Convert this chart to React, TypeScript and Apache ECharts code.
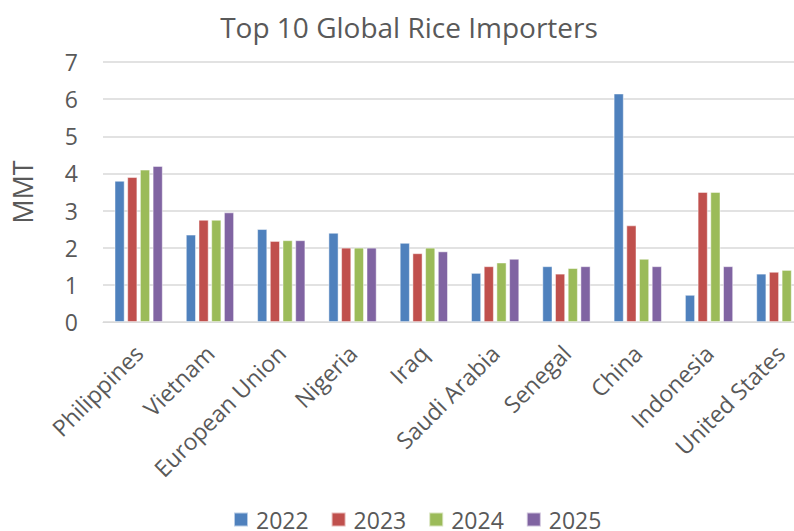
import React, { useEffect, useRef } from "react";
import * as echarts from "echarts";

const categories = [
  "Philippines",
  "Vietnam",
  "European Union",
  "Nigeria",
  "Iraq",
  "Saudi Arabia",
  "Senegal",
  "China",
  "Indonesia",
  "United States",
];
const seriesNames = ["2022", "2023", "2024", "2025"];
const v2022 = [3.8, 2.35, 2.5, 2.4, 2.13, 1.32, 1.5, 6.15, 0.73, 1.3];
const v2023 = [3.9, 2.75, 2.18, 2.0, 1.85, 1.5, 1.3, 2.6, 3.5, 1.35];
const v2024 = [4.1, 2.75, 2.2, 2.0, 2.0, 1.6, 1.45, 1.7, 3.5, 1.4];
const v2025 = [4.2, 2.95, 2.2, 2.0, 1.9, 1.7, 1.5, 1.5, 1.5, 1.42];
const yTicks = [0, 1, 2, 3, 4, 5, 6, 7];
const colors = ["#4F81BD", "#C0504D", "#9BBB59", "#8064A2"];

const FONT = "Open Sans";
const TEXT = "#595959";

export default function App() {
  const ref = useRef<HTMLDivElement>(null);
  useEffect(() => {
    if (!ref.current) return;
    const chart = echarts.init(ref.current, undefined, { renderer: "svg" });
    const values = [v2022, v2023, v2024, v2025];
    chart.setOption({
      animation: false,
      color: colors,
      textStyle: { fontFamily: FONT, color: TEXT },
      graphic: [
        {
          type: "text",
          x: 409,
          y: 27,
          style: {
            text: "Top 10 Global Rice Importers",
            fontFamily: FONT,
            fontSize: 28,
            fill: TEXT,
            textAlign: "center",
            textVerticalAlign: "middle",
          },
        },
      ],
      grid: {
        left: 103,
        width: 713,
        top: 62,
        height: 260,
        containLabel: false,
        outerBoundsMode: "none",
      },
      legend: {
        data: seriesNames,
        left: 233,
        top: 508,
        padding: 0,
        itemWidth: 14,
        itemHeight: 14,
        itemGap: 22,
        icon: "rect",
        textStyle: {
          fontFamily: FONT,
          fontSize: 23,
          lineHeight: 20,
          color: TEXT,
          padding: [0, 0, 0, 3],
        },
      },
      xAxis: {
        type: "category",
        data: categories,
        axisLine: { show: true, lineStyle: { color: "#d9d9d9", width: 1 } },
        axisTick: { show: false },
        axisLabel: {
          rotate: 45,
          interval: 0,
          margin: 27,
          fontFamily: FONT,
          fontSize: 23,
          color: TEXT,
        },
      },
      yAxis: {
        type: "value",
        min: yTicks[0],
        max: yTicks[yTicks.length - 1],
        interval: 1,
        name: "MMT",
        nameLocation: "middle",
        nameRotate: 90,
        nameGap: 67,
        nameTextStyle: { fontFamily: FONT, fontSize: 27, color: TEXT },
        axisLine: { show: false },
        axisTick: { show: false },
        axisLabel: { margin: 25, fontFamily: FONT, fontSize: 23, color: TEXT },
        splitLine: { lineStyle: { color: "#d9d9d9", width: 1.5 } },
      },
      series: seriesNames.map((name, i) => ({
        name,
        type: "bar",
        data: values[i],
        barWidth: 10,
        barGap: "27%",
        itemStyle: { color: colors[i], borderColor: "rgba(255,255,255,0.6)", borderWidth: 0.8 },
      })),
    });
    return () => chart.dispose();
  }, []);
  return (
    <div
      ref={ref}
      style={{ position: "absolute", left: 0, top: 0, width: 794, height: 531, background: "#fff" }}
    />
  );
}
